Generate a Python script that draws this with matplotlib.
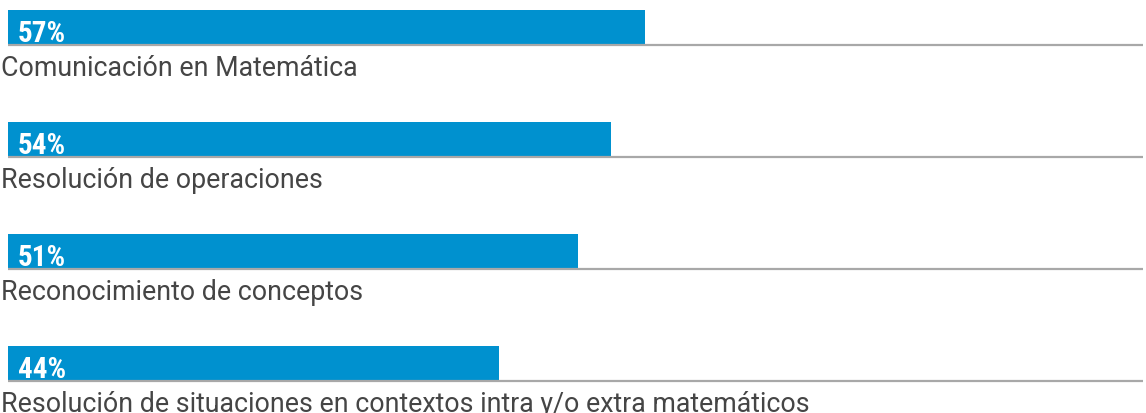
import matplotlib.pyplot as plt
from matplotlib import font_manager

# data
categories = [
    "Comunicación en Matemática",
    "Resolución de operaciones",
    "Reconocimiento de conceptos",
    "Resolución de situaciones en contextos intra y/o extra matemáticos",
]
values = [57, 54, 51, 44]

BAR = "#0091cf"
LINE = "#a8a8a8"
TEXT = "#454545"

names = {f.name for f in font_manager.fontManager.ttflist}
narrow = next((n for n in ["Roboto Condensed", "Oswald"] if n in names), "DejaVu Sans")
label_font = "Roboto" if "Roboto" in names else "DejaVu Sans"

W, H = 1146, 414
fig = plt.figure(figsize=(W / 100, H / 100), dpi=100)
# x: 0..100 % mapped to px 8..1125 ; y: rows every 112 px, first centre at 28 px
ax = fig.add_axes([8 / W, 0, 1117 / W, 1])
ax.set_xlim(0, 100)
ax.set_ylim(3 + 50 / 112, -28 / 112)
ax.axis("off")

bar_h = 34 / 112
for i, (cat, v) in enumerate(zip(categories, values)):
    ax.barh(i, v, height=bar_h, color=BAR, edgecolor="none")
    ax.plot([0, 101.6], [i + bar_h / 2 + 0.012] * 2, color=LINE, lw=1.6,
            clip_on=False, solid_capstyle="butt")
    ax.text(0.9, i + 0.125, f"{v}%", color="white", fontsize=21, fontweight="bold",
            family=narrow, va="baseline", ha="left")
    ax.text(-0.6, i + 0.425, cat, color=TEXT, fontsize=19.3, family=label_font,
            va="baseline", ha="left")

fig.savefig("out.png", dpi=100)
